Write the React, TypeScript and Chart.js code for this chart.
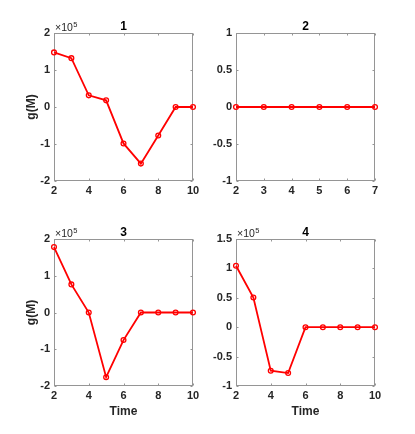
import React, { useEffect, useRef } from "react";
import { Chart, registerables } from "chart.js";

Chart.register(...registerables);

// ---------- data ----------
const time1 = [2, 3, 4, 5, 6, 7, 8, 9, 10];
const g1 = [147500, 132000, 31500, 18000, -98500, -153000, -77000, 0, 0];

const time2 = [2, 3, 4, 5, 6, 7];
const g2 = [0, 0, 0, 0, 0, 0];

const time3 = [2, 3, 4, 5, 6, 7, 8, 9, 10];
const g3 = [178000, 76500, 0, -176000, -75000, 0, 0, 0, 0];

const time4 = [2, 3, 4, 5, 6, 7, 8, 9, 10];
const g4 = [104500, 50500, -74000, -78000, 0, 0, 0, 0, 0];

const xTicksWide = [2, 4, 6, 8, 10];
const xTicksNarrow = [2, 3, 4, 5, 6, 7];
const yTicks1 = [-200000, -100000, 0, 100000, 200000];
const yTicks2 = [-1, -0.5, 0, 0.5, 1];
const yTicks3 = [-200000, -100000, 0, 100000, 200000];
const yTicks4 = [-100000, -50000, 0, 50000, 100000, 150000];

const titles = ["1", "2", "3", "4"];
const yLabel = "g(M)";
const xLabel = "Time";
const exponentBase = "\u00d710";
const exponentPow = "5";

// ---------- layout ----------
const W = 415;
const H = 434;
const YW = 40;
const XH = 34;
const FONT = "'Liberation Sans', Arial, Helvetica, sans-serif";
const TEXT = "#262626";
const AXIS = "#959595";
const RED = "#ff0000";

type Panel = {
  area: { l: number; r: number; t: number; b: number };
  xs: number[];
  ys: number[];
  xTicks: number[];
  yTicks: number[];
  scale: number;
  title: string;
  showY: boolean;
  showX: boolean;
};

const panels: Panel[] = [
  { area: { l: 54, r: 193, t: 33, b: 181 }, xs: time1, ys: g1, xTicks: xTicksWide, yTicks: yTicks1, scale: 1e5, title: titles[0], showY: true, showX: false },
  { area: { l: 236, r: 375, t: 33, b: 181 }, xs: time2, ys: g2, xTicks: xTicksNarrow, yTicks: yTicks2, scale: 1, title: titles[1], showY: false, showX: false },
  { area: { l: 54, r: 193, t: 239, b: 386 }, xs: time3, ys: g3, xTicks: xTicksWide, yTicks: yTicks3, scale: 1e5, title: titles[2], showY: true, showX: true },
  { area: { l: 236, r: 375, t: 239, b: 386 }, xs: time4, ys: g4, xTicks: xTicksWide, yTicks: yTicks4, scale: 1e5, title: titles[3], showY: false, showX: true },
];

const boxPlugin = {
  id: "matlabBox",
  beforeDatasetsDraw(chart: any) {
    const { ctx, chartArea } = chart;
    const { left, right, top, bottom } = chartArea;
    const xs = chart.scales.x;
    const ys = chart.scales.y;
    ctx.save();
    ctx.strokeStyle = AXIS;
    ctx.lineWidth = 1;
    const L = Math.round(left) + 0.5;
    const R = Math.round(right) - 0.5;
    const T = Math.round(top) + 0.5;
    const B = Math.round(bottom) - 0.5;
    ctx.strokeRect(L, T, R - L, B - T);
    const tl = 2;
    ctx.beginPath();
    xs.ticks.forEach((t: any) => {
      const px = Math.round(xs.getPixelForValue(t.value)) + 0.5;
      ctx.moveTo(px, B);
      ctx.lineTo(px, B - tl);
      ctx.moveTo(px, T);
      ctx.lineTo(px, T + tl);
    });
    ys.ticks.forEach((t: any) => {
      const py = Math.round(ys.getPixelForValue(t.value)) + 0.5;
      ctx.moveTo(L, py);
      ctx.lineTo(L + tl, py);
      ctx.moveTo(R, py);
      ctx.lineTo(R - tl, py);
    });
    ctx.stroke();
    ctx.restore();
  },
  afterDraw(chart: any, _args: any, opts: any) {
    const { ctx, chartArea } = chart;
    const { left, right, top } = chartArea;
    ctx.save();
    ctx.fillStyle = "#000";
    ctx.textAlign = "center";
    ctx.textBaseline = "alphabetic";
    ctx.font = `bold 12px ${FONT}`;
    ctx.fillText(opts.title, (left + right) / 2, top - 3);
    if (opts.scale !== 1) {
      ctx.fillStyle = TEXT;
      ctx.textAlign = "left";
      ctx.font = `10.5px ${FONT}`;
      ctx.fillText(exponentBase, left + 1, top - 2.5);
      const w = ctx.measureText(exponentBase).width;
      ctx.font = `7.5px ${FONT}`;
      ctx.fillText(exponentPow, left + 1 + w + 0.5, top - 6.5);
    }
    ctx.restore();
  },
};

function PanelChart({ p }: { p: Panel }) {
  const ref = useRef<HTMLCanvasElement | null>(null);
  useEffect(() => {
    if (!ref.current) return;
    const { l, r, t, b } = p.area;
    const tickFont = { family: FONT, size: 11, weight: "bold" as const };
    const chart = new Chart(ref.current, {
      type: "line",
      data: {
        datasets: [
          {
            data: p.xs.map((x, i) => ({ x, y: p.ys[i] })),
            borderColor: RED,
            borderWidth: 1.8,
            pointRadius: 2.4,
            pointBorderWidth: 1.3,
            pointBorderColor: RED,
            pointBackgroundColor: "rgba(255,255,255,0)",
            pointStyle: "circle",
            tension: 0,
            clip: false as any,
          },
        ],
      },
      options: {
        responsive: false,
        animation: false,
        devicePixelRatio: 1,
        events: [],
        layout: { padding: { left: l - YW, right: W - r, top: t, bottom: H - b - XH } },
        plugins: {
          legend: { display: false },
          tooltip: { enabled: false },
          title: { display: false },
          matlabBox: { title: p.title, scale: p.scale },
        } as any,
        scales: {
          x: {
            type: "linear",
            min: p.xTicks[0],
            max: p.xTicks[p.xTicks.length - 1],
            afterBuildTicks: (s: any) => {
              s.ticks = p.xTicks.map((v) => ({ value: v }));
            },
            afterFit: (s: any) => {
              s.height = XH;
            },
            grid: { display: false, drawTicks: false },
            border: { display: false },
            ticks: {
              font: tickFont,
              color: TEXT,
              padding: 3,
              maxRotation: 0,
              autoSkip: false,
              callback: (v: any) => String(v),
            },
            title: {
              display: p.showX,
              text: xLabel,
              color: TEXT,
              font: { family: FONT, size: 12, weight: "bold" },
              padding: { top: 0, bottom: 1 },
            },
          },
          y: {
            type: "linear",
            min: p.yTicks[0],
            max: p.yTicks[p.yTicks.length - 1],
            afterBuildTicks: (s: any) => {
              s.ticks = p.yTicks.map((v) => ({ value: v }));
            },
            afterFit: (s: any) => {
              s.width = YW;
            },
            grid: { display: false, drawTicks: false },
            border: { display: false },
            ticks: {
              font: tickFont,
              color: TEXT,
              padding: 4,
              autoSkip: false,
              callback: (v: any) => String(Math.round((v / p.scale) * 1000) / 1000),
            },
            title: {
              display: p.showY,
              text: yLabel,
              color: TEXT,
              font: { family: FONT, size: 12, weight: "bold" },
              padding: { top: 10.5, bottom: 0 },
            },
          },
        },
      },
      plugins: [boxPlugin],
    });
    return () => chart.destroy();
  }, [p]);
  return (
    <canvas
      ref={ref}
      width={W}
      height={H}
      style={{ position: "absolute", left: 0, top: 0, width: W, height: H }}
    />
  );
}

export default function App() {
  return (
    <div
      style={{
        position: "absolute",
        left: 0,
        top: 0,
        width: W,
        height: H,
        background: "#ffffff",
        overflow: "hidden",
      }}
    >
      {panels.map((p, i) => (
        <PanelChart key={i} p={p} />
      ))}
    </div>
  );
}
